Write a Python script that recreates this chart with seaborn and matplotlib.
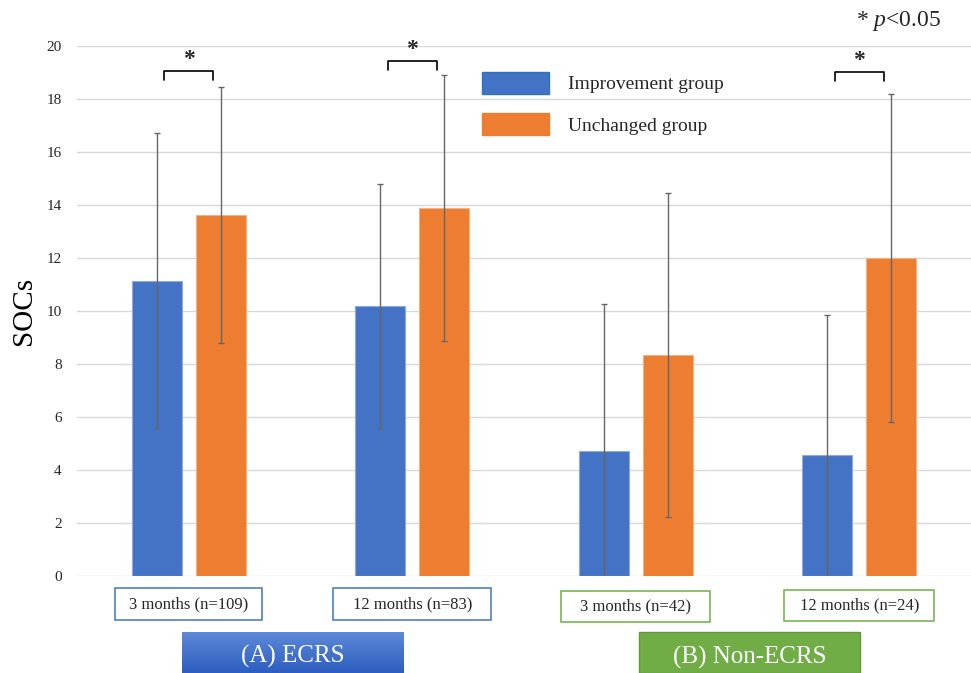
import numpy as np
import pandas as pd
import matplotlib
matplotlib.use("Agg")
import matplotlib.pyplot as plt
import seaborn as sns
from matplotlib.patches import Rectangle, Patch
from matplotlib.colors import LinearSegmentedColormap
from matplotlib.transforms import blended_transform_factory

# ---- data -------------------------------------------------------------
periods = ["3 months (n=109)", "12 months (n=83)", "3 months (n=42)", "12 months (n=24)"]
groups = ["Improvement group", "Unchanged group"]
improvement_mean = [11.15, 10.20, 4.70, 4.55]
improvement_sd = [5.56, 4.60, 5.56, 5.30]
unchanged_mean = [13.63, 13.88, 8.34, 12.00]
unchanged_sd = [4.82, 5.02, 6.11, 6.18]
significant = [0, 1, 3]          # periods marked with *
panels = ["(A) ECRS", "(B) Non-ECRS"]

BLUE = "#4472C4"
ORANGE = "#ED7D31"
GREEN = "#70AD47"

sns.set_theme(style="white")
plt.rcParams["font.family"] = ["Liberation Serif", "DejaVu Serif"]
plt.rcParams["mathtext.fontset"] = "custom"
plt.rcParams["mathtext.it"] = "Liberation Serif:italic"
plt.rcParams["mathtext.rm"] = "Liberation Serif"

W, H = 971, 673
fig = plt.figure(figsize=(W / 100, H / 100), dpi=100)


def fx(px):
    return px / W


def fy(py):
    return 1 - py / H


ax = fig.add_axes([fx(77), fy(576), fx(971) - fx(77), fy(46) - fy(576)])

df = pd.DataFrame({
    "period": periods * 2,
    "group": [groups[0]] * 4 + [groups[1]] * 4,
    "SOCs": improvement_mean + unchanged_mean,
})

sns.barplot(data=df, x="period", y="SOCs", hue="group", order=periods,
            hue_order=groups, palette=[BLUE, ORANGE], saturation=1,
            width=0.571, gap=0.22, errorbar=None, legend=False, ax=ax)

edge_cols = ["#8FAADC", "#F4B183"]
for cont, sd, ec in zip(ax.containers, [improvement_sd, unchanged_sd], edge_cols):
    xs, ys = [], []
    for p in cont:
        p.set_edgecolor(ec)
        p.set_linewidth(0.8)
        xs.append(p.get_x() + p.get_width() / 2)
        ys.append(p.get_height())
    ax.errorbar(xs, ys, yerr=sd, fmt="none", ecolor="#666666",
                elinewidth=1.0, capsize=2.5, capthick=1.0, zorder=3)

ax.set_xlim(-0.5, 3.5)
ax.set_ylim(0, 20)
ax.set_yticks(range(0, 21, 2))
ax.yaxis.grid(True, color="#D9D9D9", lw=1)
ax.set_axisbelow(True)
for s in ax.spines.values():
    s.set_visible(False)
ax.tick_params(axis="y", length=0, pad=11, labelsize=11, labelcolor="#262626")
ax.set_xticks([])
ax.set_xlabel("")
ax.set_ylabel("SOCs", fontsize=21, color="black")
ax.yaxis.set_label_coords(-0.045, 0.5)

# significance brackets
bracket_top = [19.06, 19.43, 19.02]
for i, yb in zip(significant, bracket_top):
    ax.plot([i - 0.11, i - 0.11, i + 0.11, i + 0.11], [yb - 0.34, yb, yb, yb - 0.34],
            color="black", lw=1.2, clip_on=False)
    ax.text(i, yb + 0.22, "*", ha="center", va="baseline", fontsize=17,
            fontweight="bold", clip_on=False)

fig.text(fx(899), fy(21), "* $p$<0.05", ha="center", va="center", fontsize=17)

# legend
handles = [Patch(facecolor=BLUE, edgecolor="#2E75B6", lw=1),
           Patch(facecolor=ORANGE, edgecolor=ORANGE, lw=1)]
ax.legend(handles, groups, loc="upper left", bbox_to_anchor=(fx(482), fy(72)),
          bbox_transform=fig.transFigure, frameon=False, fontsize=14,
          handlelength=3.45, handleheight=1.35, handletextpad=0.95,
          labelspacing=1.0, borderpad=0, borderaxespad=0)

# period label boxes under each pair of bars
trans = blended_transform_factory(ax.transData, fig.transFigure)
box_w_px = [147, 158, 149, 150]
box_cols = [BLUE, BLUE, GREEN, GREEN]
box_y = [(588, 620), (588, 620), (591, 622), (590, 621)]
for i, (lab, wpx, col, (y0, y1)) in enumerate(zip(periods, box_w_px, box_cols, box_y)):
    wd = wpx / 224
    fig.add_artist(Rectangle((i - wd / 2, fy(y1)), wd, fy(y0) - fy(y1),
                             transform=trans, facecolor="white", edgecolor=col,
                             lw=1.1))
    fig.text(i, fy((y0 + y1) / 2), lab, transform=trans, ha="center", va="center",
             fontsize=12)

# panel banners
axA = fig.add_axes([fx(182), fy(673), fx(403) - fx(182), fy(632) - fy(673)])
grad = np.linspace(0, 1, 100).reshape(-1, 1)
cmap = LinearSegmentedColormap.from_list("banner", ["#5E8AD8", "#2D5EC0"])
axA.imshow(grad, cmap=cmap, aspect="auto", extent=[0, 1, 0, 1])
axA.axis("off")
axA.text(0.5, 0.40, panels[0], transform=axA.transAxes, ha="center", va="center",
         color="white", fontsize=18)

fig.add_artist(Rectangle((fx(639), fy(673)), fx(860) - fx(639), fy(632) - fy(673),
                         transform=fig.transFigure, facecolor=GREEN,
                         edgecolor="#5E9A3A", lw=1))
fig.text(fx(749.5), fy(657), panels[1], ha="center", va="center", color="white",
         fontsize=18)

fig.savefig("out.png", dpi=100)
